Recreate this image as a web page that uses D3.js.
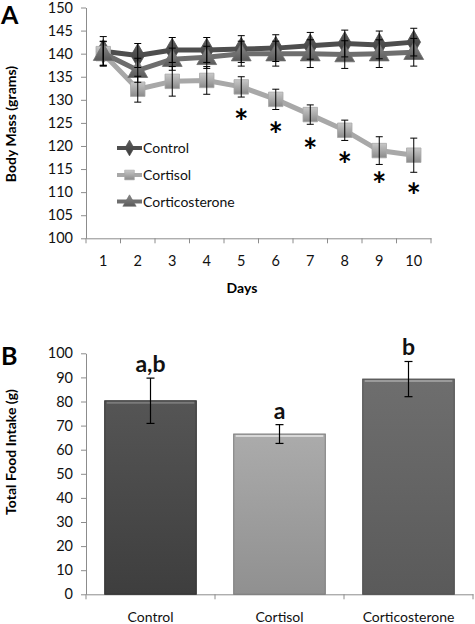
<!DOCTYPE html>
<html><head><meta charset="utf-8">
<script src="https://cdn.jsdelivr.net/npm/d3@7"></script>
<style>body{margin:0;background:#fff}svg{display:block}text{font-family:Lato,"Open Sans",sans-serif}</style>
</head><body>
<script>
const days = [1,2,3,4,5,6,7,8,9,10];
const controlMass = [140.5,139.6,140.8,140.8,141.0,141.2,141.7,142.2,141.9,142.5];
const controlErr  = [3.2,2.6,2.7,2.7,2.9,2.9,2.9,2.9,3.0,3.0];
const cortisolMass = [140.0,132.3,134.0,134.2,132.8,130.1,126.8,123.4,119.0,118.0];
const cortisolErr  = [2.6,2.8,3.2,3.0,2.2,2.2,2.1,2.2,3.0,3.7];
const corticoMass = [140.1,136.4,138.8,139.2,140.0,140.0,140.0,139.8,140.0,140.3];
const corticoErr  = [2.6,2.6,2.4,2.4,2.7,2.7,3.0,3.0,3.0,3.0];
const sigDays = [5,6,7,8,9,10];
const sigPos  = [126.8,123.8,120.5,117.4,113.1,110.7];
const massTicks = [100,105,110,115,120,125,130,135,140,145,150];

const groups = ["Control","Cortisol","Corticosterone"];
const intake = [80.3,66.5,89.3];
const intakeErr = [9.4,3.9,7.3];
const intakeLetters = ["a,b","a","b"];
const intakeTicks = [0,10,20,30,40,50,60,70,80,90,100];

const W=475,H=624;
const svg = d3.select("body").append("svg").attr("width",W).attr("height",H);
const defs = svg.append("defs");
function lg(id, c1, c2){
  const g = defs.append("linearGradient").attr("id",id).attr("x1",0).attr("y1",0).attr("x2",0).attr("y2",1);
  g.append("stop").attr("offset","0%").attr("stop-color",c1);
  g.append("stop").attr("offset","100%").attr("stop-color",c2);
}
lg("gCtrl","#5e5e5e","#3a3a3a");
lg("gCort","#c8c8c8","#8a8a8a");
lg("gCcs","#8a8a8a","#5a5a5a");
lg("bCtrl","#555555","#3e3e3e");
lg("bCort","#ababab","#909090");
lg("bCcs","#6e6e6e","#5a5a5a");

const axisColor = "#8c8c8c";
function styleAxis(g){
  g.selectAll(".domain").attr("stroke",axisColor);
  g.selectAll(".tick line").attr("stroke",axisColor);
  g.selectAll(".tick text").attr("fill","#111").attr("font-size",14.5);
}

// ---------- Panel A ----------
const yA = d3.scaleLinear().domain([100,150]).range([238.3,7.5]);
const xA = d3.scaleBand().domain(days).range([86,431]);
const cx = d=>xA(d)+xA.bandwidth()/2;

const yAx = svg.append("g").attr("transform","translate(86,0)")
  .call(d3.axisLeft(yA).tickValues(massTicks).tickSize(5).tickPadding(8).tickSizeOuter(0));
styleAxis(yAx);
const xAx = svg.append("g").attr("transform",`translate(0,${yA(100)})`)
  .call(d3.axisBottom(xA).tickSize(0).tickPadding(17));
styleAxis(xAx);
xAx.selectAll(".tick line").remove();
xAx.append("g").selectAll("line").data(d3.range(11)).join("line")
  .attr("x1",i=>86+i*xA.bandwidth()).attr("x2",i=>86+i*xA.bandwidth())
  .attr("y1",0).attr("y2",5).attr("stroke",axisColor);

svg.append("text").attr("x",242).attr("y",293).attr("text-anchor","middle")
  .attr("font-weight","bold").attr("font-size",14).text("Days");
svg.append("text").attr("transform","translate(16,124) rotate(-90)").attr("text-anchor","middle")
  .attr("font-weight","bold").attr("font-size",14).text("Body Mass (grams)");
svg.append("text").attr("x",1).attr("y",24).attr("font-weight","bold").attr("font-size",25)
  .attr("font-family","Liberation Sans, Arial, sans-serif").text("A");

const series = [
  {name:"Control", vals:controlMass, err:controlErr, line:"#4e4e4e", fill:"url(#gCtrl)", shape:d3.symbolDiamond, size:160},
  {name:"Cortisol", vals:cortisolMass, err:cortisolErr, line:"#a8a8a8", fill:"url(#gCort)", shape:d3.symbolSquare, size:210},
  {name:"Corticosterone", vals:corticoMass, err:corticoErr, line:"#6e6e6e", fill:"url(#gCcs)", shape:d3.symbolTriangle, size:170}
];
const lineGen = d3.line().x((v,i)=>cx(days[i])).y(v=>yA(v));
series.forEach(s=>{
  svg.append("path").attr("d",lineGen(s.vals)).attr("fill","none").attr("stroke",s.line).attr("stroke-width",5).attr("stroke-linejoin","round");
  svg.append("g").selectAll("path").data(s.vals).join("path")
    .attr("d",d3.symbol(s.shape,s.size))
    .attr("transform",(v,i)=>`translate(${cx(days[i])},${yA(v)+(s.shape===d3.symbolTriangle?1.5:0)})`)
    .attr("fill",s.fill).attr("stroke",s.line).attr("stroke-width",0.8);
});
series.forEach(s=>{
  const g = svg.append("g").attr("stroke","#000").attr("stroke-width",1);
  s.vals.forEach((v,i)=>{
    const x=cx(days[i]);
    g.append("line").attr("x1",x).attr("x2",x).attr("y1",yA(v-s.err[i])).attr("y2",yA(v+s.err[i]));
    [v-s.err[i],v+s.err[i]].forEach(e=>g.append("line").attr("x1",x-3.5).attr("x2",x+3.5).attr("y1",yA(e)).attr("y2",yA(e)));
  });
});
svg.append("g").selectAll("text").data(sigDays).join("text")
  .attr("x",d=>cx(d)).attr("y",(d,i)=>yA(sigPos[i])+19).attr("text-anchor","middle")
  .attr("font-weight","bold").attr("font-size",34).attr("font-family","Liberation Sans, Arial, sans-serif").text("*");

// legend
const legY = [148,175,201.5];
series.forEach((s,i)=>{
  const g = svg.append("g").attr("transform",`translate(117,${legY[i]})`);
  g.append("line").attr("x1",0).attr("x2",25).attr("stroke",s.line).attr("stroke-width",4);
  g.append("path").attr("d",d3.symbol(s.shape,s.size*0.45)).attr("transform",`translate(12.5,${s.shape===d3.symbolTriangle?1:0})`)
    .attr("fill",s.fill).attr("stroke",s.line).attr("stroke-width",0.6);
  g.append("text").attr("x",26).attr("y",5).attr("font-size",14).attr("fill","#111").text(s.name);
});

// ---------- Panel B ----------
const yB = d3.scaleLinear().domain([0,100]).range([594.3,353.3]);
const xB = d3.scaleBand().domain(groups).range([86,473]).paddingInner(0.29).paddingOuter(0.145);
const yBx = svg.append("g").attr("transform","translate(86,0)")
  .call(d3.axisLeft(yB).tickValues(intakeTicks).tickSize(5).tickPadding(8).tickSizeOuter(0));
styleAxis(yBx);
const xBx = svg.append("g").attr("transform",`translate(0,${yB(0)})`)
  .call(d3.axisBottom(xB).tickSize(0).tickPadding(18));
styleAxis(xBx);
xBx.selectAll(".tick line").remove();
const step = (473-86)/3;
xBx.append("g").selectAll("line").data(d3.range(4)).join("line")
  .attr("x1",i=>86+i*step).attr("x2",i=>86+i*step).attr("y1",0).attr("y2",5).attr("stroke",axisColor);
xBx.selectAll(".tick text").attr("font-size",14);

svg.append("text").attr("transform","translate(16,452) rotate(-90)").attr("text-anchor","middle")
  .attr("font-weight","bold").attr("font-size",14).text("Total Food Intake (g)");
svg.append("text").attr("x",1).attr("y",365).attr("font-weight","bold").attr("font-size",25)
  .attr("font-family","Liberation Sans, Arial, sans-serif").text("B");

const barFill = ["url(#bCtrl)","url(#bCort)","url(#bCcs)"];
const barEdge = ["#2e2e2e","#7a7a7a","#4a4a4a"];
const barTop = ["#7a7a7a","#d8d8d8","#9a9a9a"];
svg.append("g").selectAll("rect").data(groups).join("rect")
  .attr("x",d=>xB(d)).attr("width",xB.bandwidth())
  .attr("y",(d,i)=>yB(intake[i])).attr("height",(d,i)=>yB(0)-yB(intake[i]))
  .attr("fill",(d,i)=>barFill[i]).attr("stroke",(d,i)=>barEdge[i]).attr("stroke-width",1);
svg.append("g").selectAll("line").data(groups).join("line")
  .attr("x1",d=>xB(d)+2).attr("x2",d=>xB(d)+xB.bandwidth()-2)
  .attr("y1",(d,i)=>yB(intake[i])+2).attr("y2",(d,i)=>yB(intake[i])+2)
  .attr("stroke",(d,i)=>barTop[i]).attr("stroke-width",2);
const eb = svg.append("g").attr("stroke","#000").attr("stroke-width",1.2);
groups.forEach((d,i)=>{
  const x = xB(d)+xB.bandwidth()/2;
  eb.append("line").attr("x1",x).attr("x2",x).attr("y1",yB(intake[i]-intakeErr[i])).attr("y2",yB(intake[i]+intakeErr[i]));
  [intake[i]-intakeErr[i],intake[i]+intakeErr[i]].forEach(e=>eb.append("line").attr("x1",x-4).attr("x2",x+4).attr("y1",yB(e)).attr("y2",yB(e)));
});
svg.append("g").selectAll("text").data(groups).join("text")
  .attr("x",d=>xB(d)+xB.bandwidth()/2)
  .attr("y",(d,i)=>yB(intake[i]+intakeErr[i])-6)
  .attr("text-anchor","middle").attr("font-weight","bold").attr("font-size",23).attr("fill","#111")
  .text((d,i)=>intakeLetters[i]);
</script>
</body></html>
